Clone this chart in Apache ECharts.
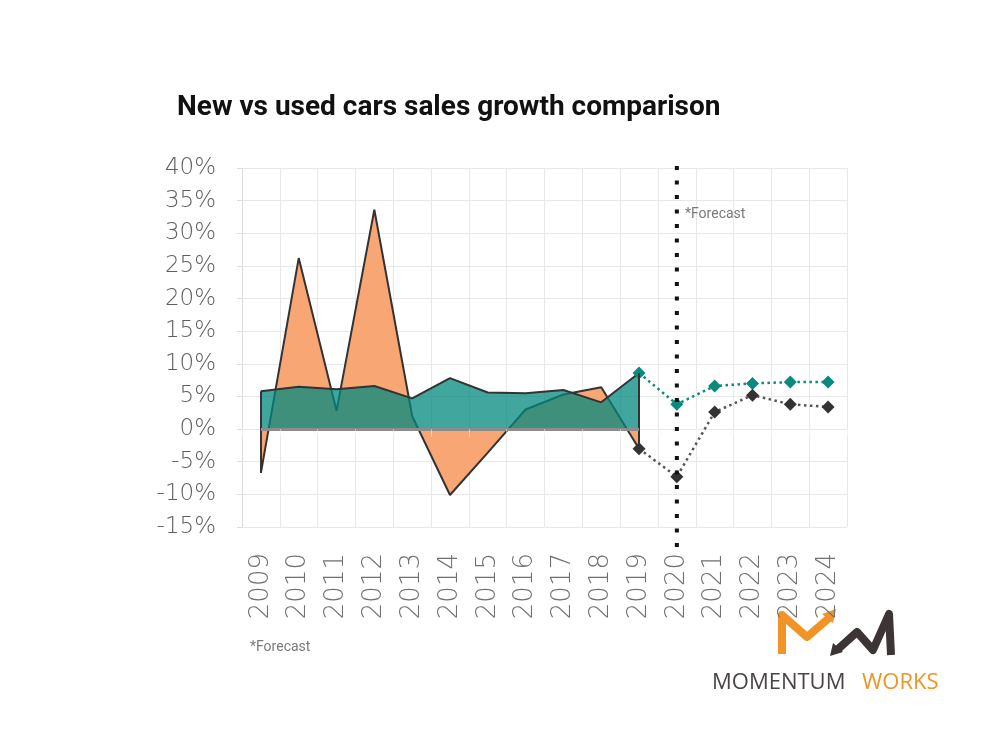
<!DOCTYPE html>
<html>
<head>
<meta charset="utf-8">
<script src="https://cdn.jsdelivr.net/npm/echarts@6/dist/echarts.min.js"></script>
<style>
html,body{margin:0;padding:0;background:#fff;}
#chart{width:1000px;height:750px;}
</style>
</head>
<body>
<div id="chart"></div>
<script>
var years = ['2009','2010','2011','2012','2013','2014','2015','2016','2017','2018','2019','2020','2021','2022','2023','2024'];
var yTicks = [-15, -10, -5, 0, 5, 10, 15, 20, 25, 30, 35, 40];
// historical growth, %
var newCars  = [-6.7, 26.2, 2.8, 33.6, 2.0, -10.1, -3.6, 3.0, 5.3, 6.4, -3.0];
var usedCars = [5.8, 6.5, 6.1, 6.6, 4.7, 7.8, 5.6, 5.5, 6.0, 4.1, 8.6];
// forecast 2019-2024, %
var newForecast  = [-3.0, -7.3, 2.6, 5.2, 3.8, 3.4];
var usedForecast = [8.6, 3.8, 6.6, 7.0, 7.2, 7.2];

var histYears = years.slice(0, newCars.length);

function pad(arr, startIdx) {
  var out = [];
  for (var i = 0; i < years.length; i++) {
    var j = i - startIdx;
    out.push(j >= 0 && j < arr.length ? arr[j] : '-');
  }
  return out;
}

var first = histYears[0], last = histYears[histYears.length - 1];
var li = histYears.length - 1;

var chart = echarts.init(document.getElementById('chart'), null, {renderer: 'canvas'});
var labelFont = '"DejaVu Sans", sans-serif';

var option = {
  backgroundColor: '#ffffff',
  animation: false,
  title: {
    text: 'New vs used cars sales growth comparison',
    left: 172, top: 89,
    textStyle: {fontFamily: 'Roboto, sans-serif', fontWeight: 'bold', fontSize: 28, color: '#111'}
  },
  grid: {left: 242, right: 153, top: 168, bottom: 223},
  xAxis: [{
    type: 'category', data: years, boundaryGap: true,
    axisLine: {show: false, onZero: false},
    axisTick: {show: false},
    splitLine: {show: true, interval: 0, lineStyle: {color: '#e8e8e8', width: 1}},
    axisLabel: {rotate: 90, margin: 26, interval: 0, fontFamily: labelFont, fontWeight: 200, fontSize: 26, color: '#707070'}
  }, {
    type: 'category', data: years, boundaryGap: true, z: 5,
    axisLine: {show: true, onZero: true, lineStyle: {color: 'rgba(0,0,0,0)'}},
    axisTick: {show: true, inside: true, length: 8, interval: 0, lineStyle: {color: 'rgba(255,255,255,0.45)', width: 1}},
    axisLabel: {show: false},
    splitLine: {show: false}
  }],
  yAxis: {
    type: 'value', min: yTicks[0], max: yTicks[yTicks.length - 1], interval: 5,
    axisLine: {show: true, lineStyle: {color: '#dcdcdc'}},
    axisTick: {show: true, length: 5, lineStyle: {color: '#dcdcdc'}},
    splitLine: {lineStyle: {color: '#e8e8e8', width: 1}},
    axisLabel: {margin: 26, padding: [5, 0, 0, 0], formatter: '{value}%', fontFamily: labelFont, fontWeight: 200, fontSize: 23, color: '#5e5e5e'}
  },
  series: [{
    name: 'New cars', type: 'line', data: pad(newCars, 0),
    symbol: 'none', z: 2,
    lineStyle: {color: '#333', width: 2},
    areaStyle: {color: '#F8A674', opacity: 1, origin: 0}
  }, {
    name: 'Used cars', type: 'line', data: pad(usedCars, 0),
    symbol: 'none', z: 3,
    lineStyle: {color: '#333', width: 2},
    areaStyle: {color: '#00887E', opacity: 0.75, origin: 0},
    markLine: {
      silent: true, symbol: 'none', label: {show: false},
      data: [
        [{coord: [first, newCars[0]], lineStyle: {color: '#333', width: 2, type: 'solid'}},
         {coord: [first, usedCars[0]]}],
        [{coord: [last, newCars[li]], lineStyle: {color: '#333', width: 2, type: 'solid'}},
         {coord: [last, usedCars[li]]}],
        [{coord: [first, 0], lineStyle: {color: '#8c8c8c', width: 3, type: 'solid'}},
         {coord: [last, 0]}]
      ]
    }
  }, {
    name: 'Used cars forecast', type: 'line', data: pad(usedForecast, li),
    symbol: 'diamond', symbolSize: 13, z: 4,
    itemStyle: {color: '#0B897D'},
    lineStyle: {color: '#0B897D', width: 2.5, type: [2.5, 3.5]}
  }, {
    name: 'New cars forecast', type: 'line', data: pad(newForecast, li),
    symbol: 'diamond', symbolSize: 13, z: 4,
    itemStyle: {color: '#333333'},
    lineStyle: {color: '#555555', width: 2.5, type: [2.5, 3.5]}
  }]
};
chart.setOption(option);

// forecast divider at the first forecast year, positioned through the axis scale
var fx = chart.convertToPixel({xAxisIndex: 0}, years[newCars.length]);
var M = [[782,654],[782,615],[807,637],[829,618]];
var W = [[837,650],[857,632],[873,650],[889,614],[891,655]];
chart.setOption({
  graphic: [
    {type: 'line', silent: true, z: 10,
     shape: {x1: fx, y1: 166, x2: fx, y2: 557},
     style: {stroke: '#111', lineWidth: 4, lineDash: [4, 10.5]}},
    {type: 'text', left: 685, top: 207, silent: true,
     style: {text: '*Forecast', fontFamily: 'Roboto, sans-serif', fontSize: 14, fill: '#7a7a7a'}},
    {type: 'text', left: 250, top: 640, silent: true,
     style: {text: '*Forecast', fontFamily: 'Roboto, sans-serif', fontSize: 14, fill: '#7a7a7a'}},
    {type: 'polyline', silent: true, shape: {points: M},
     style: {stroke: '#F29325', lineWidth: 8, fill: null, lineJoin: 'round', lineCap: 'butt'}},
    {type: 'polygon', silent: true, shape: {points: [[822,614],[836,609],[833,623]]},
     style: {fill: '#F29325'}},
    {type: 'polyline', silent: true, shape: {points: W},
     style: {stroke: '#3d3535', lineWidth: 8, fill: null, lineJoin: 'round', lineCap: 'butt'}},
    {type: 'polygon', silent: true, shape: {points: [[843,652],[830,656],[833,643]]},
     style: {fill: '#3d3535'}},
    {type: 'text', left: 712, top: 672, silent: true,
     style: {text: 'MOMENTUM', fontFamily: '"Open Sans", sans-serif', fontSize: 22, fill: '#4a4545'}},
    {type: 'text', left: 862, top: 672, silent: true,
     style: {text: 'WORKS', fontFamily: '"Open Sans", sans-serif', fontSize: 22, fill: '#F29325'}}
  ]
});
</script>
</body>
</html>
